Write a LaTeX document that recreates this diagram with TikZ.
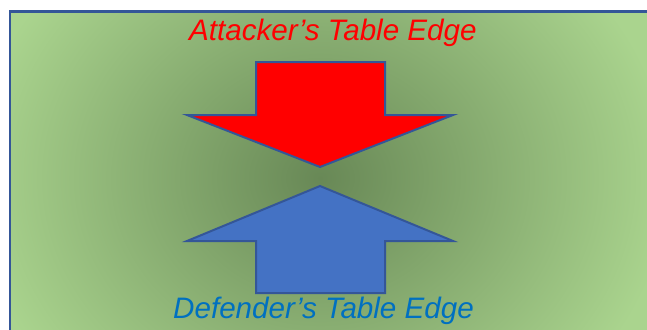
\documentclass[tikz,border=0pt]{standalone}
\usepackage{fontspec}
\setmainfont{Liberation Sans}
\definecolor{glowin}{RGB}{104,136,86}
\definecolor{glowout}{RGB}{170,212,142}
\definecolor{frameblue}{RGB}{52,86,152}
\definecolor{attackred}{RGB}{255,0,0}
\definecolor{defendfill}{RGB}{68,114,196}
\definecolor{defendtext}{RGB}{0,112,192}
\pgfdeclareradialshading{glow}{\pgfpoint{0bp}{0bp}}{color(0bp)=(glowin); color(25bp)=(glowout); color(50bp)=(glowout)}
\tikzset{
  arrowshape/.style={draw=frameblue, line width=2pt, line join=miter},
  edgelabel/.style={inner sep=0pt, font=\fontsize{29.6}{34}\selectfont\itshape},
}
\begin{document}
\begin{tikzpicture}[x=1pt,y=-1pt]
  \useasboundingbox (0,0) rectangle (647,329);
  \fill[white] (0,0) rectangle (647,329);
  \clip (0,0) rectangle (647,329);
  % table area with a dark glow in the middle
  \begin{scope}
    \clip (10,11.5) rectangle (670,345);
    \fill[shading=glow] (-30,-122) rectangle (670,478);
  \end{scope}
  \draw[frameblue, line width=2.6pt] (10,11.5) rectangle (670,345);
  % attacker's arrow pointing down
  \path[arrowshape, fill=attackred]
    (256,62) -- (385,62) -- (385,115) -- (453,115) -- (320,167)
    -- (187,115) -- (256,115) -- cycle;
  % defender's arrow pointing up
  \path[arrowshape, fill=defendfill]
    (320,186) -- (453,241) -- (385,241) -- (385,293) -- (256,293)
    -- (256,241) -- (187,241) -- cycle;
  \node[edgelabel, text=attackred, anchor=base west] (attacker) at (189,40.7) {Attacker’s Table Edge};
  \node[edgelabel, text=defendtext, anchor=base west] (defender) at (173,318) {Defender’s Table Edge};
\end{tikzpicture}
\end{document}
